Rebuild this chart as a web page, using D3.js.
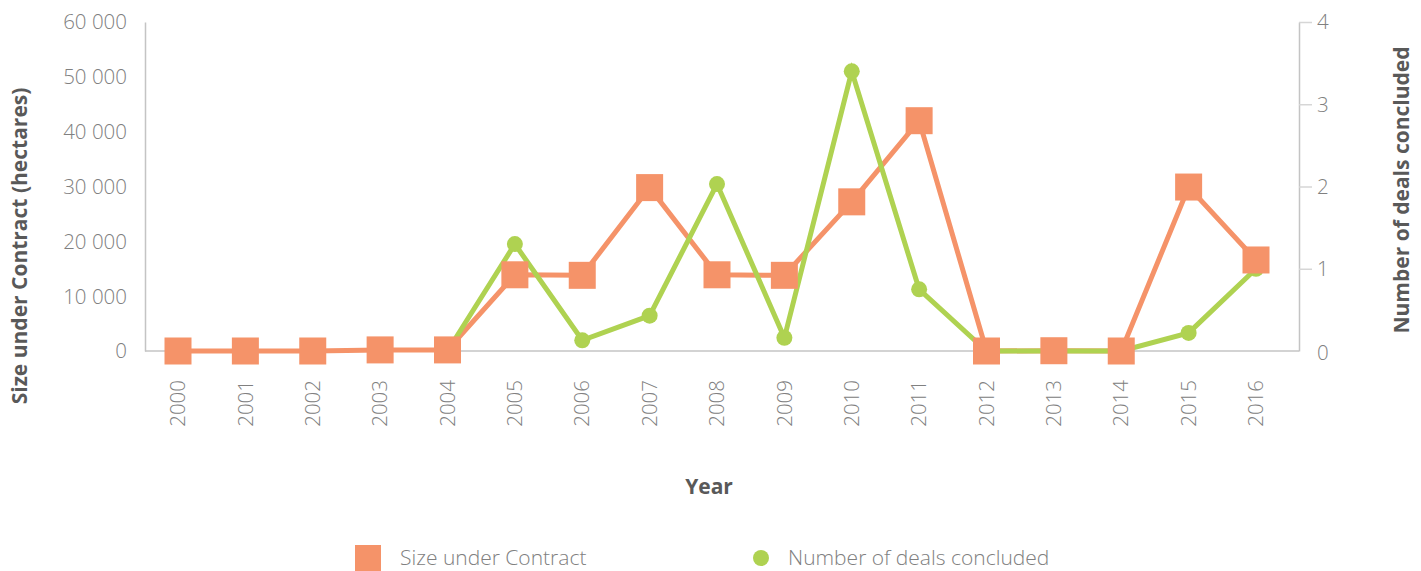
<!DOCTYPE html>
<html>
<head>
<meta charset="utf-8">
<script src="https://cdn.jsdelivr.net/npm/d3@7"></script>
<style>
	body{margin:0;background:#fff}
	svg{display:block;font-family:"Open Sans",sans-serif}
</style>
</head>
<body>
<svg id="chart" width="1421" height="571"></svg>
<script>
const years = [2000,2001,2002,2003,2004,2005,2006,2007,2008,2009,2010,2011,2012,2013,2014,2015,2016]
const sizeUnderContract = [0,0,0,200,200,13900,13800,29800,13900,13800,27200,42000,0,50,0,29900,16600]
const dealsConcluded = [null,null,null,null,0,1.3,0.13,0.43,2.03,0.16,3.4,0.75,0,0,0,0.22,1.0]
const leftTicks = [0,10000,20000,30000,40000,50000,60000]
const rightTicks = [1,2,3,4]

const orange = "#f59369", green = "#afd251"
const svg = d3.select("#chart")

const x = d3.scalePoint().domain(years).range([178, 1256])
const yL = d3.scaleLinear().domain([0,60000]).range([351,22])
const yR = d3.scaleLinear().domain([0,4]).range([351,22])

const tickStyle = sel => sel.attr("font-size",20.5).attr("font-weight",300).attr("fill","#808080")

// axes
const fmt = d => d3.format(",")(d).replace(/,/g," ")
svg.append("g")
	.attr("transform","translate(145,0)")
	.call(d3.axisLeft(yL).tickValues(leftTicks).tickSize(0).tickPadding(18).tickFormat(fmt))
	.call(g=>{
		g.attr("font-family",null).attr("font-size",null)
		g.select(".domain").attr("stroke","#c4c4c4").attr("stroke-width",1.5)
		g.selectAll("text").call(tickStyle).attr("dy","0.34em")
	})

svg.append("g")
	.attr("transform","translate(1299,0)")
	.call(d3.axisRight(yR).tickValues(rightTicks).tickSize(13).tickSizeOuter(0).tickPadding(5).tickFormat(d3.format("d")))
	.call(g=>{
		g.attr("font-family",null).attr("font-size",null)
		g.select(".domain").attr("stroke","#c4c4c4").attr("stroke-width",1.5)
		g.selectAll("line").attr("stroke","#d6d6d6").attr("stroke-width",1.5)
		g.selectAll("text").call(tickStyle).attr("dy","0.34em")
	})
svg.append("text").attr("x",1317).attr("y",yR(0)).attr("dy","0.45em").call(tickStyle).text("0")

svg.append("line").attr("x1",145).attr("x2",1299).attr("y1",351).attr("y2",351)
	.attr("stroke","#c4c4c4").attr("stroke-width",1.5)

svg.append("g").selectAll("text").data(years).join("text")
	.attr("transform",d=>`translate(${x(d)},380) rotate(-90)`)
	.attr("text-anchor","end").attr("dy","0.35em")
	.call(tickStyle)
	.text(d=>d)

// titles
const titleStyle = sel => sel.attr("text-anchor","middle").attr("font-size",21).attr("font-weight",700).attr("fill","#595959")
svg.append("text").attr("transform","translate(27,246) rotate(-90)").call(titleStyle)
	.text("Size under Contract (hectares)")
svg.append("text").attr("transform","translate(1409,190) rotate(-90)").call(titleStyle)
	.text("Number of deals concluded")
svg.append("text").attr("x",709).attr("y",494).call(titleStyle)
	.text("Year")

// series
const sizeData = years.map((y,i)=>({year:y, v:sizeUnderContract[i]}))
const dealData = years.map((y,i)=>({year:y, v:dealsConcluded[i]})).filter(d=>d.v!==null)

svg.append("path").datum(sizeData)
	.attr("fill","none").attr("stroke",orange).attr("stroke-width",5)
	.attr("d",d3.line().x(d=>x(d.year)).y(d=>yL(d.v)))
svg.append("path").datum(dealData)
	.attr("fill","none").attr("stroke",green).attr("stroke-width",5)
	.attr("d",d3.line().x(d=>x(d.year)).y(d=>yR(d.v)))
svg.append("g").selectAll("circle").data(dealData).join("circle")
	.attr("cx",d=>x(d.year)).attr("cy",d=>yR(d.v)).attr("r",8).attr("fill",green)
svg.append("g").selectAll("rect").data(sizeData).join("rect")
	.attr("x",d=>x(d.year)-13.5).attr("y",d=>yL(d.v)-13.5)
	.attr("width",27).attr("height",27).attr("fill",orange)

// legend
const legend = svg.append("g")
legend.append("rect").attr("x",355).attr("y",545).attr("width",26).attr("height",26).attr("fill",orange)
legend.append("text").attr("x",400).attr("y",558).attr("dy","0.35em").call(tickStyle).attr("font-size",21)
	.text("Size under Contract")
legend.append("circle").attr("cx",761).attr("cy",558).attr("r",8).attr("fill",green)
legend.append("text").attr("x",788).attr("y",558).attr("dy","0.35em").call(tickStyle).attr("font-size",21)
	.text("Number of deals concluded")
</script>
</body>
</html>
